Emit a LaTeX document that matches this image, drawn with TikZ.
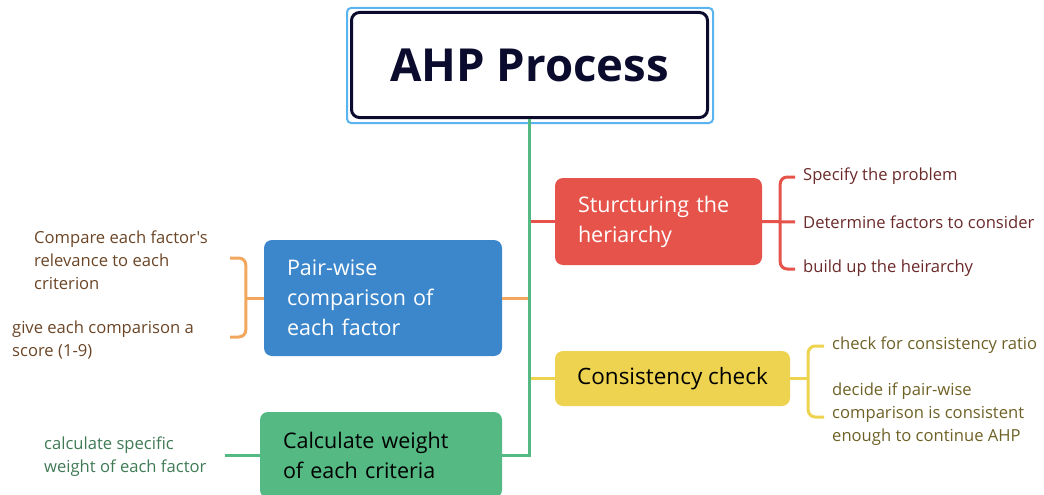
\documentclass[tikz,border=0pt]{standalone}
\usepackage{fontspec}
\setmainfont{Open Sans}[Ligatures=TeXOff]
\usetikzlibrary{positioning}

\definecolor{navy}{HTML}{0B0B2E}
\definecolor{skyline}{HTML}{5AB4F0}
\definecolor{redc}{HTML}{E5534A}
\definecolor{redtxt}{HTML}{6B2A2A}
\definecolor{bluec}{HTML}{3C87CB}
\definecolor{orangec}{HTML}{F2A65E}
\definecolor{browntxt}{HTML}{6B4526}
\definecolor{yellowc}{HTML}{EDD34F}
\definecolor{olivetxt}{HTML}{6E6126}
\definecolor{greenc}{HTML}{55B983}
\definecolor{greentxt}{HTML}{3F7A55}

\begin{document}
\begin{tikzpicture}[x=1pt,y=-1pt,
  box/.style={rounded corners=8pt,inner ysep=0pt,inner xsep=23pt,align=left,
    font=\fontsize{21.5}{30}\selectfont},
  sub/.style={anchor=west,inner ysep=0pt,inner xsep=8pt,align=left,
    font=\fontsize{16.6}{23}\selectfont},
  link/.style={line width=3pt},
  brace/.style={line width=3pt,rounded corners=7pt}]
  \useasboundingbox (0,0) rectangle (1044,495);

  % title
  \draw[skyline,line width=2pt,rounded corners=4pt] (347,8) rectangle (713,123);
  \node[draw=navy,line width=3pt,rounded corners=8pt,minimum width=356,minimum height=105,
    font=\fontsize{45.5}{50}\bfseries\selectfont,text=navy] (title) at (529.5,65) {AHP Process};

  % main steps
  \node[box,fill=redc,text=white,text width=161,minimum height=87] (struct) at (658.5,221.5)
    {Sturcturing the\\heriarchy};
  \node[box,fill=bluec,text=white,text width=192,minimum height=116] (pair) at (383,298)
    {Pair-wise\\comparison of\\each factor};
  \node[box,fill=yellowc,text=black,align=center,inner xsep=0pt,minimum width=235,minimum height=55,
    font=\fontsize{22.5}{30}\selectfont] (cons) at (672.5,378.5)
    {Consistency check};
  \node[box,fill=greenc,text=black,text width=196,minimum height=86] (calc) at (381,455)
    {Calculate weight\\of each criteria};

  % details
  \node[sub,text=redtxt] (s1) at (795,176) {Specify the problem};
  \node[sub,text=redtxt] (s2) at (795,222) {Determine factors to consider};
  \node[sub,text=redtxt] (s3) at (795,268) {build up the heirarchy};
  \node[sub,text=browntxt] (p1) at (26,260) {Compare each factor's\\relevance to each\\criterion};
  \node[sub,text=browntxt] (p2) at (4,340.5) {give each comparison a\\score (1-9)};
  \node[sub,text=olivetxt] (c1) at (824,345) {check for consistency ratio};
  \node[sub,text=olivetxt] (c2) at (824,414) {decide if pair-wise\\comparison is consistent\\enough to continue AHP};
  \node[sub,text=greentxt] (w1) at (36,456.5) {calculate specific\\weight of each factor};
  \coordinate (p1end) at (230,258);
  \coordinate (p2end) at (230,337);
  \coordinate (w1end) at (225,455);

  % brackets
  \draw[brace,redc] ([yshift=-1]s1.west) -| ([xshift=18]struct.east) |- ([yshift=-1]s3.west);
  \draw[link,redc] (struct.east) -- (s2.west);
  \draw[brace,orangec] (p1end) -| ([xshift=-18]pair.west) |- (p2end);
  \draw[link,orangec] (pair.west) -- ++(-18,0);
  \draw[brace,yellowc] ([yshift=-1]c1.west) -| ([xshift=18]cons.east) |- ([yshift=-3]c2.west);
  \draw[link,yellowc] (cons.east) -- ++(18,0);
  \draw[link,greenc] (calc.west) -- (w1end);

  % branches
  \draw[link,redc] (struct.west) -- (title.south |- struct.west);
  \draw[link,orangec] (pair.east) -- (title.south |- pair.east);
  \draw[link,yellowc] (cons.west) -- (title.south |- cons.west);
  \draw[link,greenc] (title.south) |- (calc.east);
\end{tikzpicture}
\end{document}
